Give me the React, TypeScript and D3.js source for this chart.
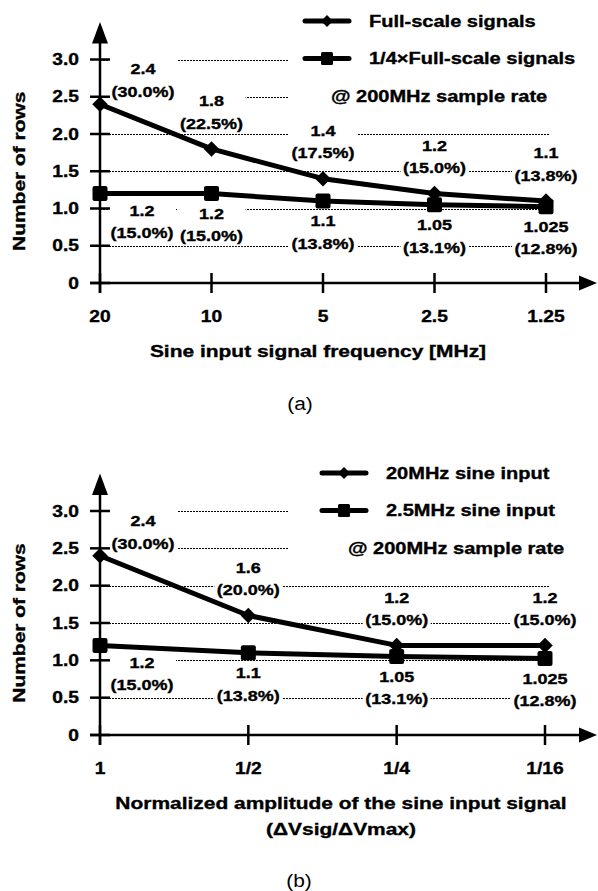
import * as d3 from 'd3';

const FREQ_CATS = ['20', '10', '5', '2.5', '1.25'];
const FULL_SCALE = [2.4, 1.8, 1.4, 1.2, 1.1];
const FULL_SCALE_PCT = ['30.0', '22.5', '17.5', '15.0', '13.8'];
const QUARTER_SCALE = [1.2, 1.2, 1.1, 1.05, 1.025];
const QUARTER_SCALE_PCT = ['15.0', '15.0', '13.8', '13.1', '12.8'];

const AMP_CATS = ['1', '1/2', '1/4', '1/16'];
const SINE_20 = [2.4, 1.6, 1.2, 1.2];
const SINE_20_PCT = ['30.0', '20.0', '15.0', '15.0'];
const SINE_2_5 = [1.2, 1.1, 1.05, 1.025];
const SINE_2_5_PCT = ['15.0', '13.8', '13.1', '12.8'];

const Y_TICKS = [0, 0.5, 1, 1.5, 2, 2.5, 3];
const Y_TICK_LABELS = ['0', '0.5', '1.0', '1.5', '2.0', '2.5', '3.0'];

const FONT = '"Liberation Sans", Arial, sans-serif';

// stretched text, like the original figure (wide Arial)
const T = ({ x, y, children, size = 16, sx = 1.2, anchor = 'middle', weight = 'bold', rotate = 0 }) => (
  <text
    transform={`translate(${x},${y}) rotate(${rotate}) scale(${sx},1)`}
    textAnchor={anchor}
    dy="0.35em"
    fontFamily={FONT}
    fontWeight={weight}
    fontSize={size}
    fill="#000"
    stroke={weight === 'bold' ? '#000' : 'none'}
    strokeWidth={0.35}
  >
    {children}
  </text>
);

const diamondPath = d3.symbol(d3.symbolSquare, 120)();
const diamondSmall = d3.symbol(d3.symbolSquare, 72)();

const Panel = ({ cats, top, topPct, bottom, bottomPct, names, g }) => {
  const x = d3.scalePoint().domain(cats).range([100, g.lastX]);
  const y = d3.scaleLinear().domain([0, 3]).range([g.zeroY, g.threeY]);
  const y0 = y(0);
  const line = d3.line().x((d, i) => x(cats[i])).y(d => y(d));

  const labels = [];
  top.forEach((v, i) => {
    const px = x(cats[i]);
    const py = y(v);
    const lx = i === 0 ? px + 43 : px;
    const ly = i === 0 ? py - 35 : py - 48;
    labels.push({ lx, ly, a: String(v), b: `(${topPct[i]}%)` });
  });
  bottom.forEach((v, i) => {
    const px = x(cats[i]);
    const py = y(v);
    const lx = i === 0 ? px + 42 : px;
    const ly = i === 0 ? py + 17 : py + 20;
    labels.push({ lx, ly, a: String(v), b: `(${bottomPct[i]}%)` });
  });

  const lg = g.legend;

  return (
    <g>
      {/* dotted grid */}
      {Y_TICKS.filter(t => t > 0).map(t => (
        <line
          key={t}
          x1={100}
          x2={t >= 2.5 ? 288 : g.lastX + 4}
          y1={Math.round(y(t)) + 0.5}
          y2={Math.round(y(t)) + 0.5}
          stroke="#000"
          strokeWidth={1.1}
          strokeDasharray="2 1"
        />
      ))}

      {/* label backgrounds */}
      {labels.map((l, i) => (
        <rect key={i} x={l.lx - 34} y={l.ly - 10} width={68} height={42.5} fill="#fff" />
      ))}

      {/* axes */}
      <line x1={100} x2={100} y1={y0 + 10} y2={g.threeY - 20} stroke="#000" strokeWidth={2.5} />
      <path d={`M100,${g.threeY - 37.5} L92,${g.threeY - 16} L108,${g.threeY - 16} Z`} fill="#000" />
      <line x1={90} x2={585} y1={y0} y2={y0} stroke="#000" strokeWidth={2.5} />
      <path d={`M597,${y0} L579,${y0 - 7.5} L579,${y0 + 7.5} Z`} fill="#000" />
      {Y_TICKS.map(t => (
        <line key={t} x1={90} x2={110} y1={y(t)} y2={y(t)} stroke="#000" strokeWidth={2.5} />
      ))}
      {cats.map(c => (
        <line key={c} x1={x(c)} x2={x(c)} y1={y0 - 10} y2={y0 + 10} stroke="#000" strokeWidth={2.5} />
      ))}
      {Y_TICKS.map((t, i) => (
        <T key={t} x={79} y={y(t)} anchor="end" size={16}>{Y_TICK_LABELS[i]}</T>
      ))}
      {cats.map(c => (
        <T key={c} x={x(c)} y={y0 + 33} size={16}>{c}</T>
      ))}

      {/* series */}
      <path d={line(top)} fill="none" stroke="#000" strokeWidth={5} strokeLinejoin="round" />
      <path d={line(bottom)} fill="none" stroke="#000" strokeWidth={5} strokeLinejoin="round" />
      {top.map((v, i) => (
        <path key={i} d={diamondPath} transform={`translate(${x(cats[i])},${y(v)}) rotate(45)`} fill="#000" />
      ))}
      {bottom.map((v, i) => (
        <rect key={i} x={x(cats[i]) - 7.5} y={y(v) - 7.5} width={15} height={15} rx={2} fill="#000" />
      ))}

      {/* value labels */}
      {labels.map((l, i) => (
        <g key={i}>
          <T x={l.lx} y={l.ly} size={15}>{l.a}</T>
          <T x={l.lx} y={l.ly + 22.5} size={15}>{l.b}</T>
        </g>
      ))}

      {/* legend */}
      <line x1={lg.mx - 22} x2={lg.mx + 22} y1={lg.y} y2={lg.y} stroke="#000" strokeWidth={5} strokeLinecap="round" />
      <path d={diamondSmall} transform={`translate(${lg.mx},${lg.y}) rotate(45)`} fill="#000" />
      <T x={lg.tx} y={lg.y} anchor="start" size={16} sx={1.25}>{names[0]}</T>
      <line x1={lg.mx - 22} x2={lg.mx + 22} y1={lg.y + 37.5} y2={lg.y + 37.5} stroke="#000" strokeWidth={5} strokeLinecap="round" />
      <rect x={lg.mx - 6} y={lg.y + 37.5 - 6.5} width={12} height={13} rx={1.5} fill="#000" />
      <T x={lg.tx} y={lg.y + 37.5} anchor="start" size={16} sx={1.25}>{names[1]}</T>
      <T x={lg.nx} y={lg.y + 75} anchor="start" size={16} sx={1.25}>@ 200MHz sample rate</T>

      {/* axis titles */}
      <T x={19} y={(g.zeroY + g.threeY) / 2} rotate={-90} size={16.5} sx={1.27}>Number of rows</T>
      {g.xTitle.map((s, i) => (
        <T key={i} x={g.titleX} y={y0 + 68 + i * 26} size={16.5} sx={1.27}>{s}</T>
      ))}
      <T x={g.capX} y={g.capY} size={19} sx={1.1} weight="normal">{g.caption}</T>
    </g>
  );
};

export default function App() {
  return (
    <svg
      width={598}
      height={891}
      style={{ position: 'absolute', left: 0, top: 0, background: '#fff' }}
    >
      <rect width={598} height={891} fill="#fff" />
      <Panel
        cats={FREQ_CATS}
        top={FULL_SCALE}
        topPct={FULL_SCALE_PCT}
        bottom={QUARTER_SCALE}
        bottomPct={QUARTER_SCALE_PCT}
        names={['Full-scale signals', '1/4×Full-scale signals']}
        g={{
          lastX: 546,
          zeroY: 283,
          threeY: 59.5,
          legend: { y: 21, mx: 327, tx: 369, nx: 331 },
          xTitle: ['Sine input signal frequency [MHz]'],
          titleX: 318,
          caption: '(a)',
          capX: 300,
          capY: 403,
        }}
      />
      <Panel
        cats={AMP_CATS}
        top={SINE_20}
        topPct={SINE_20_PCT}
        bottom={SINE_2_5}
        bottomPct={SINE_2_5_PCT}
        names={['20MHz sine input', '2.5MHz sine input']}
        g={{
          lastX: 545,
          zeroY: 735,
          threeY: 511,
          legend: { y: 473, mx: 344, tx: 386, nx: 348 },
          xTitle: ['Normalized amplitude of the sine input signal', '(ΔVsig/ΔVmax)'],
          titleX: 341,
          caption: '(b)',
          capX: 299,
          capY: 880,
        }}
      />
    </svg>
  );
}
